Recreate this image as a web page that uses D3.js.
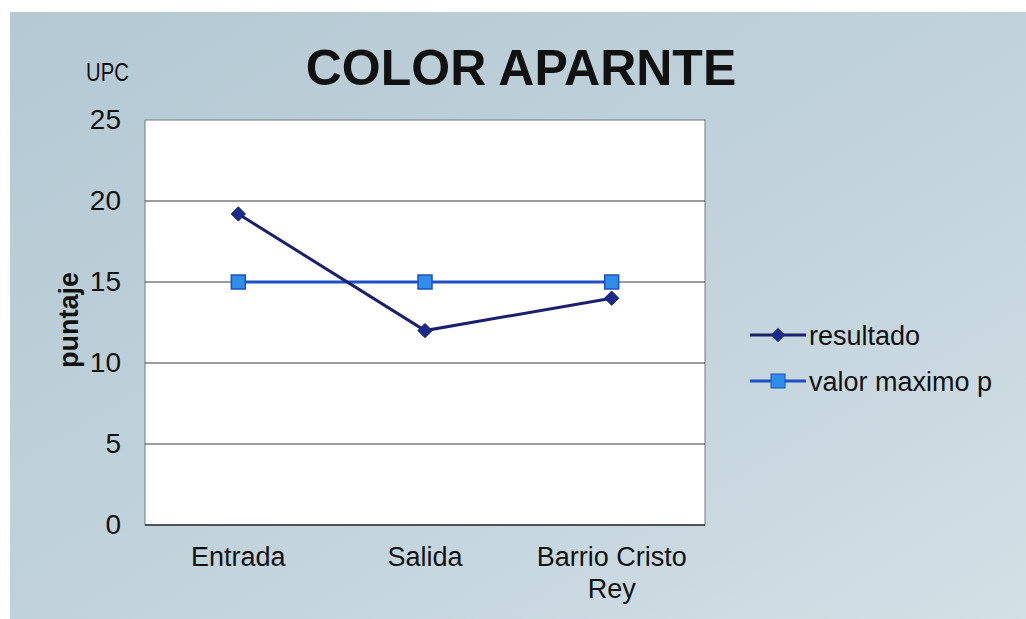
<!DOCTYPE html>
<meta charset="utf-8">
<style>
body { margin:0; background:#ffffff; font-family: "Liberation Sans", Arial, sans-serif; }
.grid line { stroke:#3a3a3a; stroke-width:1px; }
.xlab text { font-size:27px; fill:#111; }
.legend text { font-size:27px; fill:#111; }
</style>
<body>
<div id="chart"></div>
<script src="https://d3js.org/d3.v7.min.js"></script>
<script>
// data
var categories = ["Entrada", "Salida", "Barrio Cristo Rey"];
var resultado = [19.2, 12, 14];
var valorMaximo = [15, 15, 15];
var yTicks = [0, 5, 10, 15, 20, 25];
var seriesNames = ["resultado", "valor maximo p"];

var W = 1026, H = 619;
var plot = {left:145, top:120, right:705, bottom:525};

var svg = d3.select("#chart").append("svg")
    .attr("width", W)
    .attr("height", H);

// bluish paper background
var defs = svg.append("defs");
var grad = defs.append("linearGradient").attr("id", "bg")
    .attr("x1", "0%").attr("y1", "0%").attr("x2", "100%").attr("y2", "100%");
grad.append("stop").attr("offset", "0%").attr("stop-color", "#b4c9d4");
grad.append("stop").attr("offset", "55%").attr("stop-color", "#c2d3dc");
grad.append("stop").attr("offset", "100%").attr("stop-color", "#d3e0e6");
svg.append("rect")
    .attr("x", 10).attr("y", 12)
    .attr("width", W - 10).attr("height", H - 12)
    .attr("fill", "url(#bg)");

var x = d3.scalePoint().domain(categories).range([plot.left, plot.right]).padding(0.5);
var y = d3.scaleLinear().domain([0, 25]).range([plot.bottom, plot.top]);

// plot area
svg.append("rect")
    .attr("x", plot.left).attr("y", plot.top)
    .attr("width", plot.right - plot.left).attr("height", plot.bottom - plot.top)
    .attr("fill", "#ffffff")
    .attr("stroke", "#6f7a80").attr("stroke-width", 1);

svg.append("g").attr("class", "grid")
  .selectAll("line").data(yTicks.filter(function(d) { return d > 0 && d < 25; }))
  .enter().append("line")
    .attr("x1", plot.left).attr("x2", plot.right)
    .attr("y1", function(d) { return y(d); })
    .attr("y2", function(d) { return y(d); });
svg.append("line")
    .attr("x1", plot.left).attr("x2", plot.right)
    .attr("y1", plot.bottom).attr("y2", plot.bottom)
    .attr("stroke", "#333").attr("stroke-width", 1.5);

// y axis labels
var yAxis = d3.axisLeft(y).tickValues(yTicks).tickSize(0).tickPadding(24);
svg.append("g")
    .attr("transform", "translate(" + plot.left + ",0)")
    .call(yAxis)
    .call(function(g) { g.select(".domain").remove(); })
    .selectAll("text")
    .attr("font-family", "'Liberation Sans', Arial, sans-serif")
    .attr("font-size", 28).attr("fill", "#111");

// x labels (wrap the long one)
var xl = svg.append("g").attr("class", "xlab");
categories.forEach(function(c) {
  var words = c === "Barrio Cristo Rey" ? ["Barrio Cristo", "Rey"] : [c];
  var t = xl.append("text")
      .attr("text-anchor", "middle")
      .attr("x", x(c)).attr("y", 566);
  words.forEach(function(w, i) {
    t.append("tspan").attr("x", x(c)).attr("dy", i ? 32 : 0).text(w);
  });
});

// lines
var line = d3.line()
    .x(function(d, i) { return x(categories[i]); })
    .y(function(d) { return y(d); });

svg.append("path").datum(valorMaximo)
    .attr("fill", "none").attr("stroke", "#1f4fc4").attr("stroke-width", 3)
    .attr("d", line);
svg.append("path").datum(resultado)
    .attr("fill", "none").attr("stroke", "#1a1f6e").attr("stroke-width", 3)
    .attr("d", line);

svg.selectAll(".sq").data(valorMaximo).enter().append("rect")
    .attr("x", function(d, i) { return x(categories[i]) - 7; })
    .attr("y", function(d) { return y(d) - 7; })
    .attr("width", 14).attr("height", 14)
    .attr("fill", "#2f8ee8").attr("stroke", "#1f4fc4").attr("stroke-width", 1.5);

var diamond = d3.symbol().type(d3.symbolDiamond2).size(130);
svg.selectAll(".dm").data(resultado).enter().append("path")
    .attr("d", diamond)
    .attr("transform", function(d, i) { return "translate(" + x(categories[i]) + "," + y(d) + ")"; })
    .attr("fill", "#1a2a8a").attr("stroke", "#1a1f6e");

// legend
var lg = svg.append("g").attr("class", "legend");
seriesNames.forEach(function(n, i) {
  var ly = 335 + i * 46;
  var col = i ? "#1f4fc4" : "#1a1f6e";
  lg.append("line").attr("x1", 750).attr("x2", 806).attr("y1", ly).attr("y2", ly)
    .attr("stroke", col).attr("stroke-width", 3);
  if (i) {
    lg.append("rect").attr("x", 771).attr("y", ly - 7).attr("width", 14).attr("height", 14)
      .attr("fill", "#2f8ee8").attr("stroke", "#1f4fc4");
  } else {
    lg.append("path").attr("d", diamond).attr("transform", "translate(778," + ly + ")")
      .attr("fill", "#1a2a8a");
  }
  lg.append("text").attr("x", 809).attr("y", ly + 10).text(n);
});

// titles
svg.append("text")
    .attr("x", 521).attr("y", 85)
    .attr("text-anchor", "middle")
    .attr("font-size", 50).attr("font-weight", "bold").attr("fill", "#111")
    .text("COLOR APARNTE");
svg.append("text")
    .attr("transform", "translate(86,81) scale(0.78,1)")
    .attr("font-size", 26).attr("fill", "#111")
    .text("UPC");
svg.append("text")
    .attr("transform", "translate(78,320) rotate(-90)")
    .attr("text-anchor", "middle")
    .attr("font-size", 27).attr("font-weight", "bold").attr("fill", "#111")
    .text("puntaje");
</script>
</body>
